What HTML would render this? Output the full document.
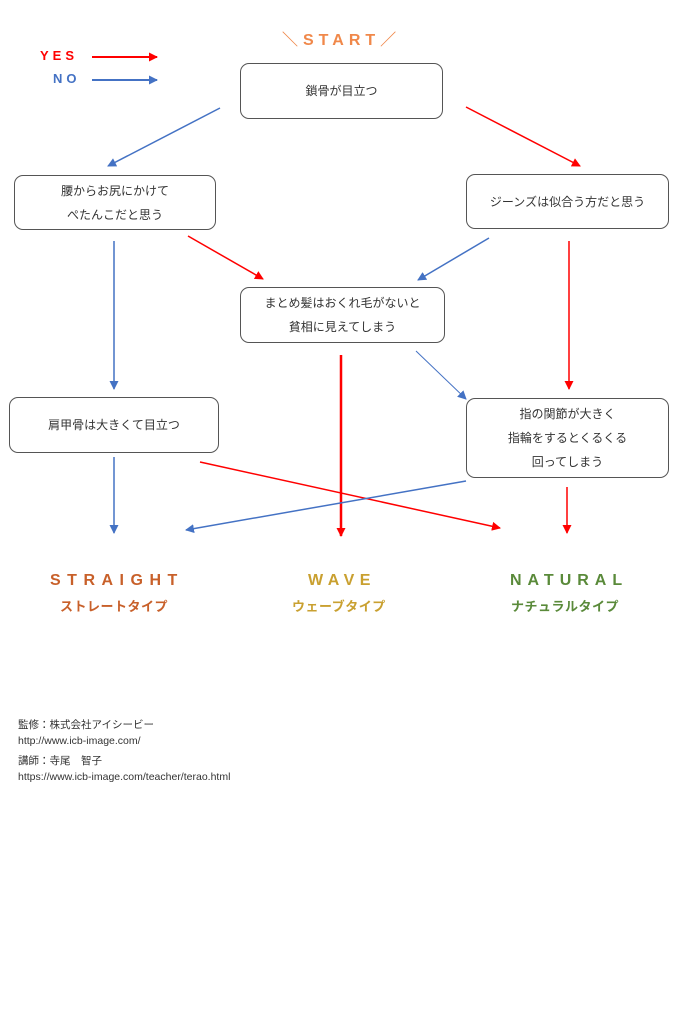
<!DOCTYPE html>
<html><head><meta charset="utf-8"><style>
html,body{margin:0;padding:0;background:#fff}
body{width:683px;height:1024px;position:relative;overflow:hidden;font-family:"Liberation Sans","Noto Sans CJK JP",sans-serif}
.box{position:absolute;border:1px solid #555;border-radius:9px;box-sizing:border-box;display:flex;align-items:center;justify-content:center;text-align:center;font-size:12px;line-height:24px;color:#333;background:#fff}
.t{position:absolute;font-weight:bold;letter-spacing:4px;white-space:nowrap}
.f{position:absolute;left:18px;font-size:10.5px;color:#333;white-space:nowrap}
</style></head><body>
<svg width="683" height="1024" style="position:absolute;left:0;top:0">
<defs>
<marker id="r" markerWidth="9" markerHeight="9" refX="8" refY="4.5" orient="auto" markerUnits="userSpaceOnUse"><path d="M0,0L9,4.5L0,9z" fill="#f00"/></marker>
<marker id="b" markerWidth="9" markerHeight="9" refX="8" refY="4.5" orient="auto" markerUnits="userSpaceOnUse"><path d="M0,0L9,4.5L0,9z" fill="#4472c4"/></marker>
</defs>
<g stroke-width="1.5" fill="none">
<line x1="92" y1="57" x2="157" y2="57" stroke="#f00" stroke-width="2" marker-end="url(#r)"/>
<line x1="92" y1="80" x2="157" y2="80" stroke="#4472c4" stroke-width="2" marker-end="url(#b)"/>
<line x1="220" y1="108" x2="108" y2="166" stroke="#4472c4" marker-end="url(#b)"/>
<line x1="466" y1="107" x2="580" y2="166" stroke="#f00" marker-end="url(#r)"/>
<line x1="188" y1="236" x2="263" y2="279" stroke="#f00" marker-end="url(#r)"/>
<line x1="489" y1="238" x2="418" y2="280" stroke="#4472c4" marker-end="url(#b)"/>
<line x1="114" y1="241" x2="114" y2="389" stroke="#4472c4" marker-end="url(#b)"/>
<line x1="569" y1="241" x2="569" y2="389" stroke="#f00" marker-end="url(#r)"/>
<line x1="341" y1="355" x2="341" y2="536" stroke="#f00" stroke-width="2.5" marker-end="url(#r)"/>
<line x1="416" y1="351" x2="466" y2="399" stroke="#4472c4" stroke-width="1" marker-end="url(#b)"/>
<line x1="114" y1="457" x2="114" y2="533" stroke="#4472c4" marker-end="url(#b)"/>
<line x1="200" y1="462" x2="500" y2="528" stroke="#f00" marker-end="url(#r)"/>
<line x1="466" y1="481" x2="186" y2="530" stroke="#4472c4" marker-end="url(#b)"/>
<line x1="567" y1="487" x2="567" y2="533" stroke="#f00" marker-end="url(#r)"/>
</g>
</svg>
<div class="t" style="left:282px;top:26px;font-size:16px;color:#f0884a;letter-spacing:5px">＼START／</div>
<div class="t" style="left:40px;top:48px;font-size:13px;color:#f00">YES</div>
<div class="t" style="left:53px;top:71px;font-size:13px;color:#4472c4">NO</div>
<div class="box" style="left:240px;top:63px;width:203px;height:56px">鎖骨が目立つ</div>
<div class="box" style="left:14px;top:175px;width:202px;height:55px">腰からお尻にかけて<br>ぺたんこだと思う</div>
<div class="box" style="left:466px;top:174px;width:203px;height:55px">ジーンズは似合う方だと思う</div>
<div class="box" style="left:240px;top:287px;width:205px;height:56px">まとめ髪はおくれ毛がないと<br>貧相に見えてしまう</div>
<div class="box" style="left:9px;top:397px;width:210px;height:56px">肩甲骨は大きくて目立つ</div>
<div class="box" style="left:466px;top:398px;width:203px;height:80px">指の関節が大きく<br>指輪をするとくるくる<br>回ってしまう</div>
<div class="t" style="left:50px;top:572px;font-size:16px;color:#c8602a;letter-spacing:6.5px">STRAIGHT</div>
<div class="t" style="left:60px;top:596px;font-size:13px;color:#c8602a;letter-spacing:0.5px">ストレートタイプ</div>
<div class="t" style="left:308px;top:572px;font-size:16px;color:#c9a030;letter-spacing:5.5px">WAVE</div>
<div class="t" style="left:292px;top:596px;font-size:13px;color:#c9a030;letter-spacing:0.5px">ウェーブタイプ</div>
<div class="t" style="left:510px;top:572px;font-size:16px;color:#5a8a3a;letter-spacing:6px">NATURAL</div>
<div class="t" style="left:511px;top:596px;font-size:13px;color:#5a8a3a;letter-spacing:0.5px">ナチュラルタイプ</div>
<div class="f" style="top:717px">監修：株式会社アイシービー</div>
<div class="f" style="top:735px">http://www.icb-image.com/</div>
<div class="f" style="top:753px">講師：寺尾　智子</div>
<div class="f" style="top:771px">https://www.icb-image.com/teacher/terao.html</div>
</body></html>
